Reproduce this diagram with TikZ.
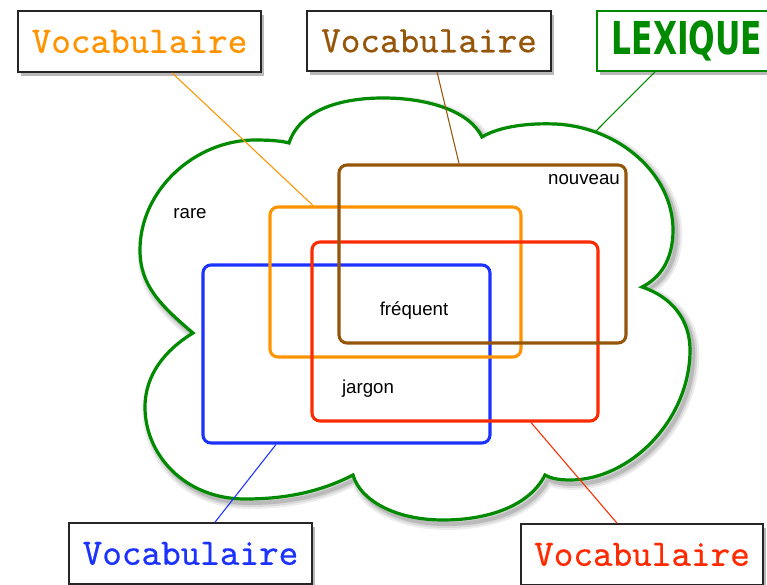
\documentclass[tikz,border=0pt]{standalone}
\usepackage{fontspec}
\usetikzlibrary{shadows}
\newfontfamily\labelfont{Liberation Sans}
\newfontfamily\vocfont{lmmono10-regular.otf}[FakeBold=0.5]
\newfontfamily\lexfont{DejaVu Sans}
\definecolor{corange}{RGB}{255,148,0}
\definecolor{cbrown}{RGB}{150,86,10}
\definecolor{cblue}{RGB}{28,50,255}
\definecolor{cred}{RGB}{255,42,0}
\definecolor{cgreen}{RGB}{0,138,0}
\newcommand\cloudshape{(193,333) .. controls (160,305) and (140,285) .. (140,250)
 .. controls (140,190) and (195,140) .. (255,140)
 .. controls (270,140) and (282,141) .. (289,143)
 .. controls (300,110) and (340,98) .. (383,98)
 .. controls (430,98) and (470,112) .. (482,137)
 .. controls (500,126) and (530,123) .. (555,124)
 .. controls (620,127) and (673,175) .. (673,230)
 .. controls (673,260) and (660,278) .. (642,287)
 .. controls (672,297) and (690,320) .. (690,350)
 .. controls (690,420) and (630,480) .. (570,480)
 .. controls (558,480) and (550,478) .. (545,475)
 .. controls (530,505) and (490,520) .. (443,520)
 .. controls (395,520) and (360,500) .. (353,475)
 .. controls (320,492) and (285,499) .. (245,499)
 .. controls (185,499) and (145,455) .. (145,407)
 .. controls (145,375) and (165,350) .. cycle}
\begin{document}
\begin{tikzpicture}[x=0.75pt,y=-0.75pt,
  setrect/.style={draw, line width=2.3pt, rounded corners=6pt, inner sep=0pt},
  labelbox/.style={draw=black!85, line width=1.3pt, fill=white, inner sep=0pt,
    drop shadow={shadow xshift=2.5pt, shadow yshift=-3pt, opacity=0.55}},
  voc/.style={font=\vocfont\fontsize{28pt}{30pt}\selectfont},
  word/.style={font=\labelfont\fontsize{14pt}{16pt}\selectfont, inner sep=0pt},
  link/.style={line width=0.8pt}]
\useasboundingbox (0,0) rectangle (767,585);
% cloud shadow
\begin{scope}[xshift=2.5pt, yshift=-3pt]
  \foreach \w/\o in {9pt/0.07, 6pt/0.09, 3pt/0.14}{
    \draw[black, opacity=\o, line width=\w, line join=round] \cloudshape;
  }
\end{scope}
% cloud
\draw[cgreen, line width=2.4pt, fill=white, line join=miter] \cloudshape;
\coordinate (cloudtop) at (596,131);
% set rectangles
\node[setrect, draw=cblue, minimum width=215.25pt, minimum height=133.5pt] (blrect) at (346.5,354) {};
\node[setrect, draw=corange, minimum width=188.25pt, minimum height=112.5pt] (orect) at (395.5,282) {};
\node[setrect, draw=cred, minimum width=214.5pt, minimum height=134.25pt] (rrect) at (455,331.5) {};
\node[setrect, draw=cbrown, minimum width=215.25pt, minimum height=133.5pt] (brect) at (482.5,254) {};
% words
\node[word] (rare) at (190,214) {rare};
\node[word] (nouveau) at (584,180) {nouveau};
\node[word] (frequent) at (414,311) {fréquent};
\node[word] (jargon) at (368,389) {jargon};
% label boxes
\node[labelbox, minimum width=182.25pt, minimum height=45.75pt, text=corange, voc] (vo) at (139.5,41.5) {Vocabulaire};
\node[labelbox, minimum width=183pt, minimum height=45pt, text=cbrown, voc] (vb) at (429,41) {Vocabulaire};
\node[labelbox, draw=cgreen, minimum width=135pt, minimum height=45pt, text=cgreen] (lex) at (687,41)
  {\lexfont\bfseries\fontsize{34pt}{36pt}\selectfont\scalebox{0.69}[1]{LEXIQUE}};
\node[labelbox, minimum width=182.25pt, minimum height=45.75pt, text=cblue, voc] (vbl) at (190.5,553.5) {Vocabulaire};
\node[labelbox, minimum width=181.5pt, minimum height=45.75pt, text=cred, voc] (vr) at (642,554.5) {Vocabulaire};
% connectors
\draw[link, corange] ([xshift=24.4pt]vo.south) -- ([xshift=-61.9pt]orect.north);
\draw[link, cbrown] ([xshift=6pt]vb.south) -- ([xshift=-17.6pt]brect.north);
\draw[link, cgreen] ([xshift=-24pt]lex.south) -- (cloudtop);
\draw[link, cblue] ([xshift=18.4pt]vbl.north) -- ([xshift=-52.9pt]blrect.south);
\draw[link, cred] ([xshift=57pt]rrect.south) -- ([xshift=-18.75pt]vr.north);
\end{tikzpicture}
\end{document}
